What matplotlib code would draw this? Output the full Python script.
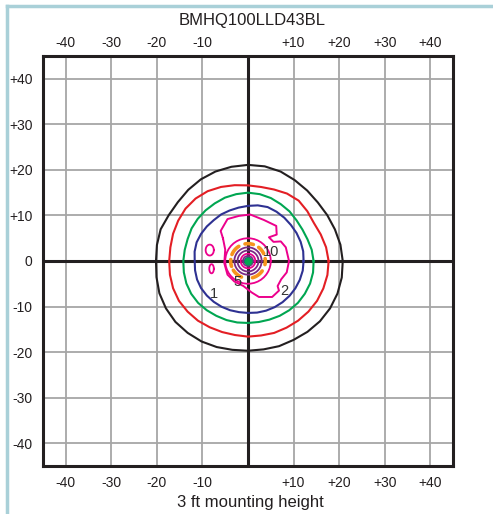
import numpy as np
import matplotlib
matplotlib.use("Agg")
import matplotlib.pyplot as plt
from matplotlib.lines import Line2D

plt.rcParams['font.family'] = ['Liberation Sans', 'DejaVu Sans']

title = "BMHQ100LLD43BL"
xlabel = "3 ft mounting height"
x_ticks = [-40, -30, -20, -10, 10, 20, 30, 40]
x_tick_labels = ["-40", "-30", "-20", "-10", "+10", "+20", "+30", "+40"]
y_ticks = [40, 30, 20, 10, 0, -10, -20, -30, -40]
y_tick_labels = ["+40", "+30", "+20", "+10", "0", "-10", "-20", "-30", "-40"]

# outer isofootcandle contours: radius (ft) every 10 degrees
angles_deg = np.arange(0, 360, 10)
r_black = [20.8, 20.6, 20.3, 20.1, 20.0, 20.2, 20.5, 20.9, 21.1, 21.1, 21.0, 20.9,
           20.7, 20.4, 20.1, 20.1, 20.4, 20.3, 20.2, 20.4, 20.7, 20.8, 20.8, 20.6,
           20.4, 20.1, 19.8, 19.7, 19.7, 19.9, 20.0, 20.3, 20.6, 20.8, 20.9, 20.9]
r_red = [17.7, 17.4, 17.0, 16.7, 17.0, 17.3, 17.1, 16.7, 16.5, 16.6, 16.9, 17.3,
         17.7, 17.9, 17.9, 17.7, 17.5, 17.3, 17.3, 17.4, 17.5, 17.5, 17.3, 17.1,
         16.8, 16.6, 16.5, 16.6, 16.6, 16.8, 16.9, 17.1, 17.3, 17.5, 17.6, 17.7]
r_green = [14.4, 14.2, 13.9, 13.8, 13.9, 14.2, 14.4, 14.7, 14.9, 15.0, 14.9, 14.8,
           14.6, 14.5, 14.4, 14.3, 14.1, 14.1, 14.2, 14.3, 14.4, 14.4, 14.3, 14.1,
           13.9, 13.8, 13.7, 13.6, 13.6, 13.7, 13.9, 14.1, 14.3, 14.4, 14.5, 14.5]
r_blue = [12.2, 12.3, 12.3, 12.3, 12.3, 12.4, 12.5, 12.6, 12.4, 12.1, 11.9, 11.8,
          11.8, 11.7, 11.8, 11.9, 12.0, 11.9, 11.7, 11.8, 11.9, 11.9, 11.8, 11.7,
          11.6, 11.5, 11.4, 11.4, 11.5, 11.6, 11.7, 11.8, 11.9, 12.0, 12.1, 12.2]

# irregular magenta contour (ft)
mag_x = [-5.5, -6.0, -4.5, -2.0, 0.5, 3.5, 6.2, 6.3, 4.6, 5.6, 7.2, 8.3, 9.0, 8.5,
         7.3, 6.5, 6.8, 5.3, 2.4, 0.8, -1.0, -3.0, -4.5, -5.2, -5.0, -5.5]
mag_y = [5.0, 6.6, 9.2, 9.9, 10.2, 9.0, 7.7, 5.8, 5.2, 4.2, 4.3, 3.0, 0.0, -2.5,
         -4.0, -5.5, -6.5, -7.9, -7.9, -6.9, -5.5, -4.5, -3.0, -0.5, 2.5, 5.0]
# small magenta islands: centre x, centre y, half width, half height
blob_x = [-8.4, -8.0]
blob_y = [2.4, -1.7]
blob_w = [0.9, 0.5]
blob_h = [1.2, 1.0]

# orange broken ring: radius and arc pieces (deg)
orange_r = 3.8
orange_arcs = [(-12, 8), (25, 52), (72, 100), (122, 158), (175, 198), (212, 248), (285, 325)]

# inner rings: radius, colour key
inner_r = [5.0, 3.0, 2.3, 1.6, 1.1, 0.7]
inner_c = ["magenta", "purple", "purple", "magenta", "purple", "blue"]

labels = ["1", "2", "5", "10"]
label_x = [-7.4, 7.9, -2.3, 5.0]
label_y = [-7.2, -6.5, -4.7, 1.9]

colors = {
    "black": "#231f20", "red": "#e31e24", "green": "#00a651", "blue": "#2e3192",
    "magenta": "#ec008c", "orange": "#f7941d", "purple": "#7a2a85",
}

fig = plt.figure(figsize=(4.93, 5.14), dpi=100)
ax = fig.add_axes([43 / 493, 1 - 466 / 514, 410 / 493, 410 / 514])
ax.set_xlim(-45, 45)
ax.set_ylim(-45, 45)

for v in x_ticks:
    ax.axvline(v, color="#a6a6a6", lw=1.3, zorder=1)
for v in y_ticks:
    if v != 0:
        ax.axhline(v, color="#a6a6a6", lw=1.3, zorder=1)
ax.axvline(0, color=colors["black"], lw=2.2, zorder=2)
ax.axhline(0, color=colors["black"], lw=2.2, zorder=2)

th = np.deg2rad(np.append(angles_deg, 0))
for rr, key in [(r_black, "black"), (r_red, "red"), (r_green, "green"), (r_blue, "blue")]:
    r = np.append(rr, rr[0])
    ax.plot(r * np.cos(th), r * np.sin(th), color=colors[key], lw=1.5, zorder=3,
            solid_joinstyle="round")

ax.plot(mag_x, mag_y, color=colors["magenta"], lw=1.4, zorder=3, solid_joinstyle="round")
t = np.linspace(0, 2 * np.pi, 40)
for bx, by, bw, bh in zip(blob_x, blob_y, blob_w, blob_h):
    ax.plot(bx + bw * np.cos(t), by + bh * np.sin(t), color=colors["magenta"], lw=1.3, zorder=3)

for a0, a1 in orange_arcs:
    ta = np.deg2rad(np.linspace(a0, a1, 20))
    ax.plot(orange_r * np.cos(ta), orange_r * np.sin(ta), color=colors["orange"], lw=2.6,
            solid_capstyle="round", zorder=3)

for r, key in zip(inner_r, inner_c):
    ax.plot(r * np.cos(t), r * np.sin(t), color=colors[key], lw=1.3, zorder=4)
ax.plot([0], [0], "o", color=colors["green"], ms=5, zorder=5)

for s, lx, ly in zip(labels, label_x, label_y):
    ax.text(lx, ly, s, fontsize=10.5, color="#333333", ha="center", va="center", zorder=6)

ax.set_xticks(x_ticks)
ax.set_xticklabels(x_tick_labels)
ax.set_yticks(y_ticks)
ax.set_yticklabels(y_tick_labels)
ax.tick_params(axis="x", length=0, pad=7, labelsize=10, labelcolor="#231f20")
ax.tick_params(axis="y", length=0, pad=7.5, labelsize=10, labelcolor="#231f20")
top = ax.secondary_xaxis("top")
top.set_xticks(x_ticks)
top.set_xticklabels(x_tick_labels)
top.tick_params(length=0, pad=4, labelsize=10, labelcolor="#231f20")
top.spines["top"].set_visible(False)
for sp in ax.spines.values():
    sp.set_linewidth(2.2)
    sp.set_color(colors["black"])

fig.text(252 / 493, 1 - 20 / 514, title, fontsize=12, ha="center", va="center", color="#231f20")
fig.text(250 / 493, 1 - 503 / 514, xlabel, fontsize=12, ha="center", va="center", color="#231f20")

# light blue frame on top and left
fig.add_artist(Line2D([7 / 493, 1.0], [1 - 6 / 514, 1 - 6 / 514], color="#a9d0d8", lw=2.5))
fig.add_artist(Line2D([7 / 493, 7 / 493], [0.0, 1 - 6 / 514], color="#a9d0d8", lw=2.5))

fig.savefig("out.png", dpi=100)
